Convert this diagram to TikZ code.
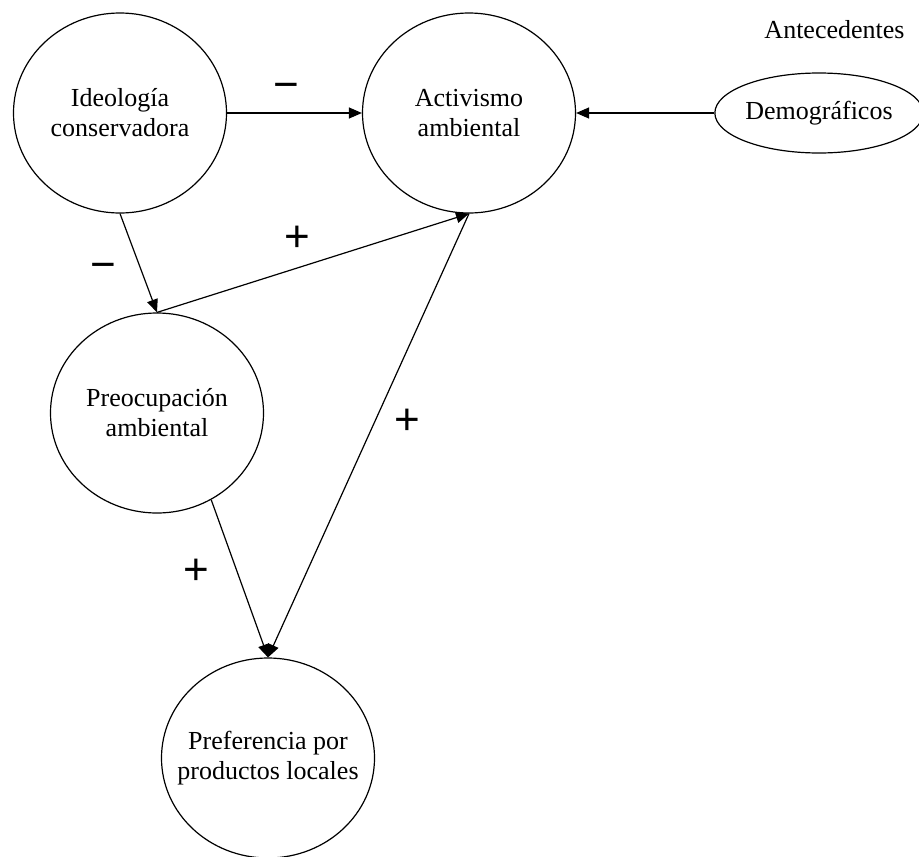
\documentclass[tikz,border=0pt]{standalone}
\usepackage{fontspec}
\setmainfont{Liberation Serif}
\newfontfamily\signfont{Liberation Sans}
\usetikzlibrary{shapes.geometric,arrows.meta}
\begin{document}
\begin{tikzpicture}[x=1pt,y=-1pt,
  var/.style={draw,ellipse,line width=1.2pt,minimum width=213pt,minimum height=200pt,inner sep=0pt,align=center,font=\fontsize{26}{30}\selectfont},
  demo/.style={draw,ellipse,line width=1.2pt,minimum width=199pt,minimum height=80pt,inner sep=0pt,font=\fontsize{26}{30}\selectfont},
  link/.style={line width=1.2pt,-{Triangle[length=13pt,width=11pt]}},
  sign/.style={anchor=base,inner sep=0pt,font=\signfont\fontsize{44}{44}\selectfont},
  heading/.style={anchor=base,inner sep=0pt,font=\fontsize{26}{30}\selectfont}]
\useasboundingbox (0,0) rectangle (919,857);
\node[var] (ideo) at (120,113) {Ideología\\conservadora};
\node[var] (act) at (469,113) {Activismo\\ambiental};
\node[demo] (demo) at (819,113) {Demográficos};
\node[heading] (ante) at (834.5,38) {Antecedentes};
\node[var] (preo) at (157,413) {Preocupación\\ambiental};
\node[var,inner xsep=-18pt] (pref) at (268,758) {Preferencia por\\productos locales};

\draw[link] (ideo) -- (act);
\draw[link] (demo) -- (act);
\draw[link] (ideo.south) -- (preo.north);
\draw[link] (preo.north) -- (act.south);
\draw[link] (act.south) -- (pref.north);
\draw[link] (preo.-58.6) -- (pref.north);

\node[sign] (m1) at (286,99.5) {−};
\node[sign] (m2) at (103,279.5) {−};
\node[sign] (p1) at (297,251.5) {+};
\node[sign] (p2) at (407,434.5) {+};
\node[sign] (p3) at (196,584.5) {+};
\end{tikzpicture}
\end{document}
